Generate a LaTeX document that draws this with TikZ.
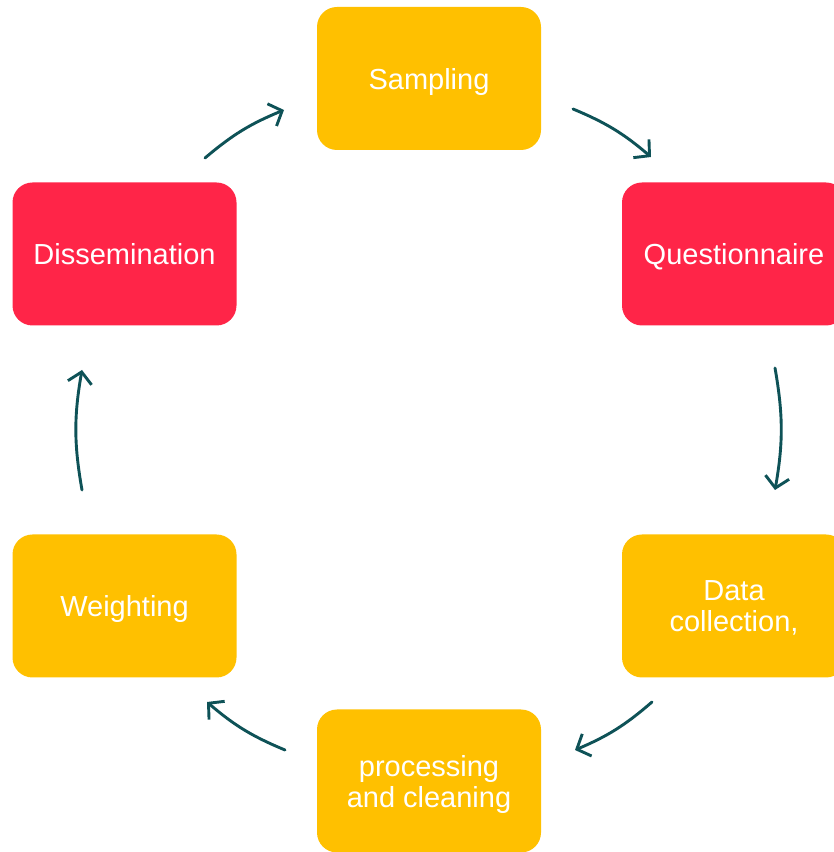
\documentclass[tikz,border=0pt]{standalone}
\usepackage{fontspec}
\setmainfont{Liberation Sans}
\usetikzlibrary{arrows.meta,calc}
\definecolor{boxyellow}{HTML}{FFC000}
\definecolor{boxred}{HTML}{FF2548}
\definecolor{arrowteal}{HTML}{0E5257}
\tikzset{
  stage/.style={rounded corners=20pt, minimum width=224pt, minimum height=143pt,
    inner sep=0pt, text=white, align=center, text depth=0pt,
    font=\fontsize{29}{31}\selectfont},
  yellowbox/.style={stage, fill=boxyellow},
  redbox/.style={stage, fill=boxred},
  flow/.style={draw=arrowteal, line width=2.9pt, line cap=round,
    -{Straight Barb[length=11pt,width=24pt,line width=2.9pt]}}
}
\begin{document}
\begin{tikzpicture}[x=1pt,y=1pt]
\useasboundingbox (0,0) rectangle (834,852);
\clip (0,0) rectangle (834,852);
\node[yellowbox] (samp) at (429,773.5) {Sampling};
\node[redbox] (ques) at (734,598) {Questionnaire};
\node[yellowbox] (data) at (734,246) {Data\\collection,};
\node[yellowbox] (proc) at (429,71) {processing\\and cleaning};
\node[yellowbox] (weigh) at (124.5,246) {Weighting};
\node[redbox] (diss) at (124.5,598) {Dissemination};
\draw[flow] ($(diss)+(80.5,96)$) to[bend left=9] ($(samp)+(-145,-31.5)$);
\draw[flow] ($(samp)+(144,-30.5)$) to[bend left=9] ($(ques)+(-83,97)$);
\draw[flow] ($(ques)+(41,-114)$) to[bend left=10] ($(data)+(41,116)$);
\draw[flow] ($(data)+(-82,-96)$) to[bend left=9] ($(proc)+(146,31)$);
\draw[flow] ($(proc)+(-144,31)$) to[bend left=9] ($(weigh)+(82.5,-96)$);
\draw[flow] ($(weigh)+(-42.5,116)$) to[bend left=10] ($(diss)+(-42.5,-116)$);
\end{tikzpicture}
\end{document}
